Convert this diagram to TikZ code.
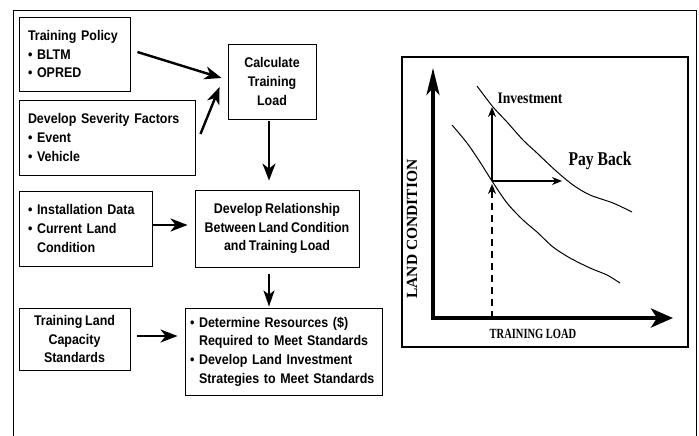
\documentclass[tikz,border=0pt]{standalone}
\usepackage{fontspec}
\setmainfont{Liberation Sans}[FakeStretch=0.89, WordSpace=0.8]
\newfontfamily\chartfont{Liberation Serif}
\usetikzlibrary{arrows.meta, positioning, calc}

\begin{document}
\begin{tikzpicture}[x=1pt, y=-1pt,
    box/.style={draw, line width=0.9pt, inner sep=0pt, font=\fontsize{14}{18.8}\selectfont\bfseries},
    flow/.style={line width=2.4pt, -{Stealth[length=17pt, width=13pt, inset=5pt]}},
    thin flow/.style={line width=1.6pt, -{Stealth[length=16pt, width=11pt, inset=4pt]}},
    axis/.style={line width=4pt, line cap=rect},
    curve/.style={line width=1pt, smooth, tension=0.5},
    lbl/.style={inner sep=0pt, font=\chartfont\bfseries}]
  \useasboundingbox (0,0) rectangle (699,436);
  \draw[line width=0.8pt] (13,436) -- (13,10) -- (696,10) -- (696,436);

  \node[box, minimum width=111pt, minimum height=74pt, text width=93pt, align=left] (policy) at (74.5,54)
    {Training Policy\\\textbullet\ BLTM\\\textbullet\ OPRED};
  \node[box, minimum width=88pt, minimum height=75pt, align=center] (calc) at (272,81.5)
    {Calculate\\Training\\Load};
  \node[box, minimum width=176pt, minimum height=75pt, text width=158pt, align=left] (severity) at (107,137.5)
    {Develop Severity Factors\\\textbullet\ Event\\\textbullet\ Vehicle};
  \node[box, minimum width=133pt, minimum height=75pt, text width=115pt, align=left] (install) at (85.5,228.5)
    {\textbullet\ Installation Data\\\textbullet\ Current Land\\\hphantom{\textbullet\ }Condition};
  \node[box, minimum width=164pt, minimum height=77pt, align=center] (relation) at (277,228.5)
    {Develop Relationship\\Between Land Condition\\and Training Load};
  \node[box, minimum width=111pt, minimum height=62pt, align=center] (capacity) at (74.5,339)
    {Training Land\\Capacity\\Standards};
  \node[box, minimum width=197pt, minimum height=87pt, text width=187pt, align=left] (resources) at (283.5,351.5)
    {\textbullet\ Determine Resources (\$)\\\hphantom{\textbullet\ }Required to Meet Standards\\
     \textbullet\ Develop Land Investment\\\hphantom{\textbullet\ }Strategies to Meet Standards};

  \draw[flow] ($(policy.east)+(7,-2)$) -- ($(calc.west)+(-6,-3.5)$);
  \draw[flow] ($(severity.east)+(5,-3.5)$) -- ($(calc.west)+(-8,5.5)$);
  \draw[flow] ($(calc.south)+(-3,2)$) -- ($(calc.south |- relation.north)+(-3,-9)$);
  \draw[flow] ($(install.east)+(1,-3.5)$) -- ($(relation.west)+(-7,-3.5)$);
  \draw[thin flow] ($(relation.south)+(-8,7)$) -- ($(relation.south |- resources.north)+(-8,-1)$);
  \draw[flow] ($(capacity.east)+(7,-3)$) -- ($(capacity.east -| resources.west)+(-7,-3)$);

  \draw[line width=1.8pt] (402,57) rectangle (688,347);
  \coordinate (o) at (433,318);
  \coordinate (ytop) at (433,68);
  \coordinate (xend) at (673,318);
  \draw[axis, -{Stealth[length=27pt, width=13pt, inset=7pt]}] (o) -- (ytop);
  \draw[axis, -{Stealth[length=22pt, width=19pt, inset=6pt]}] (o) -- (xend);
  \draw[curve] plot coordinates {(477,86) (493,107) (507,122) (523,140) (537,153) (555,170)
    (573,185) (590,195) (613,203) (632,212)};
  \draw[curve] plot coordinates {(452,125) (467,143) (480,162) (492,181) (507,203) (523,220)
    (537,232) (553,247) (570,258) (590,268) (607,275) (620,283)};
  \coordinate (p) at (492,181);
  \draw[line width=1.5pt, -{Stealth[length=10pt, width=8pt]}] (p) -- (492,107);
  \draw[line width=1.5pt, -{Stealth[length=10pt, width=8pt]}] (p) -- (562,181);
  \draw[line width=1.5pt, dash pattern=on 7pt off 5pt, -{Stealth[length=10pt, width=8pt]}] (o -| p) -- (492,184);

  \node[lbl, rotate=90, font=\chartfont\bfseries\fontsize{15.5}{16}\selectfont] (ylabel) at (412,229) {LAND CONDITION};
  \node[lbl, font=\chartfont\bfseries\fontsize{14}{15}\selectfont] (xlabel) at (533,334) {\scalebox{0.75}[1]{TRAINING LOAD}};
  \node[lbl, font=\chartfont\bfseries\fontsize{16}{17}\selectfont] (invest) at (530,98) {\scalebox{0.85}[1]{Investment}};
  \node[lbl, font=\chartfont\bfseries\fontsize{19.5}{20}\selectfont] (payback) at (600,161) {\scalebox{0.8}[1]{Pay Back}};
\end{tikzpicture}
\end{document}
